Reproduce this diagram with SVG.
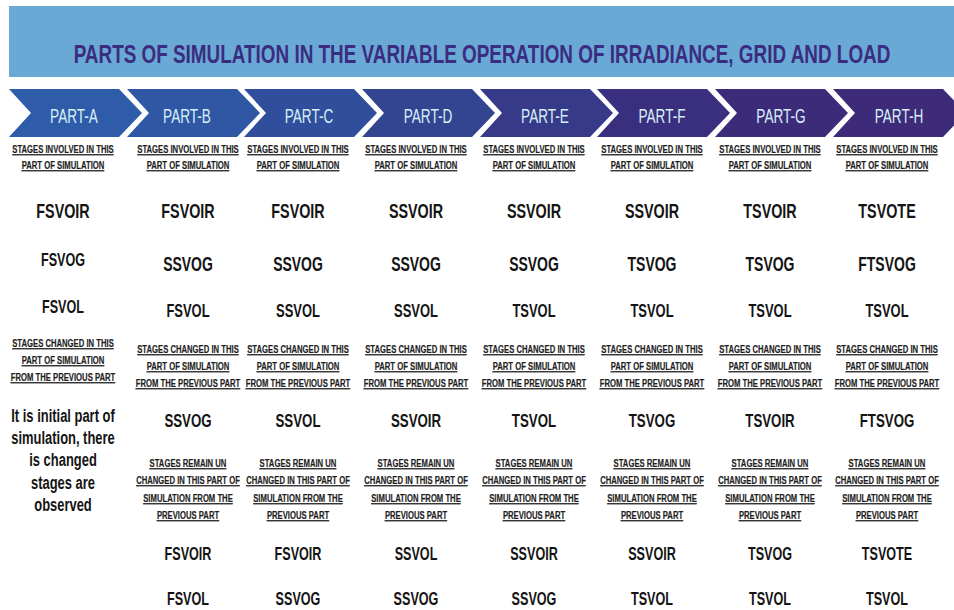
<svg xmlns="http://www.w3.org/2000/svg" width="954" height="610" viewBox="0 0 954 610">
<style>
text{font-family:"Liberation Sans",Arial,sans-serif;font-weight:bold;text-anchor:middle;fill:#141414}
.title{font-size:26px;fill:#3a2d80}
.pt{font-size:20px;font-weight:normal;fill:#d6eef8}
.hd{font-size:11px;fill:#1e1e1e;text-decoration:underline;stroke:#1e1e1e;stroke-width:0.2px}
.s1{font-size:20.5px}
.s2{font-size:20px}
.s3{font-size:18.5px}
.sa{font-size:18px}
.cv{font-size:19px}
.rv{font-size:18px}
.note{font-size:18.5px}
</style>
<rect id="banner" x="9" y="6" width="945" height="71" fill="#6aa9d6"/>
<text class="title" transform="translate(482,63) scale(0.75,1)" x="0" y="0" textLength="1089" lengthAdjust="spacingAndGlyphs">PARTS OF SIMULATION IN  THE VARIABLE OPERATION OF IRRADIANCE, GRID AND LOAD</text>
<g id="connectors"/>
<g id="part-a"><polygon points="9,89 119,89 142,113 119,137 9,137 31,113" fill="#2e5ca8"/><text class="pt" transform="translate(74,123) scale(0.68,1)">PART-A</text></g>
<g id="part-b"><polygon points="127,89 237,89 260,113 237,137 127,137 149,113" fill="#2f57a4"/><text class="pt" transform="translate(187,123) scale(0.68,1)">PART-B</text></g>
<g id="part-c"><polygon points="244,89 354,89 377,113 354,137 244,137 266,113" fill="#304e9b"/><text class="pt" transform="translate(309,123) scale(0.68,1)">PART-C</text></g>
<g id="part-d"><polygon points="362,89 472,89 495,113 472,137 362,137 384,113" fill="#334491"/><text class="pt" transform="translate(428,123) scale(0.68,1)">PART-D</text></g>
<g id="part-e"><polygon points="480,89 590,89 613,113 590,137 480,137 502,113" fill="#363a88"/><text class="pt" transform="translate(545,123) scale(0.68,1)">PART-E</text></g>
<g id="part-f"><polygon points="597,89 707,89 730,113 707,137 597,137 619,113" fill="#3a2f7e"/><text class="pt" transform="translate(662,123) scale(0.68,1)">PART-F</text></g>
<g id="part-g"><polygon points="715,89 825,89 848,113 825,137 715,137 737,113" fill="#3c2b79"/><text class="pt" transform="translate(781,123) scale(0.68,1)">PART-G</text></g>
<g id="part-h"><polygon points="833,89 943,89 966,113 943,137 833,137 855,113" fill="#3d2a78"/><text class="pt" transform="translate(899,123) scale(0.68,1)">PART-H</text></g>

<g id="col-a" transform="translate(63,0) scale(0.7,1)">
<text class="hd" x="0" y="153">STAGES INVOLVED IN THIS</text>
<text class="hd" x="0" y="169">PART OF SIMULATION</text>
<text class="s1" x="0" y="218">FSVOIR</text>
<text class="sa" x="0" y="266">FSVOG</text>
<text class="sa" x="0" y="313">FSVOL</text>
<text class="hd" x="0" y="347">STAGES CHANGED IN THIS</text>
<text class="hd" x="0" y="364">PART OF SIMULATION</text>
<text class="hd" x="0" y="381">FROM THE PREVIOUS PART</text>
<text class="note" x="0" y="422">It is initial part of</text>
<text class="note" x="0" y="444">simulation, there</text>
<text class="note" x="0" y="466">is changed</text>
<text class="note" x="0" y="489">stages are</text>
<text class="note" x="0" y="511">observed</text>
</g>

<g id="col-b" transform="translate(188,0) scale(0.7,1)">
<text class="hd" x="0" y="153">STAGES INVOLVED IN THIS</text>
<text class="hd" x="0" y="169">PART OF SIMULATION</text>
<text class="s1" x="0" y="218">FSVOIR</text>
<text class="s2" x="0" y="271">SSVOG</text>
<text class="s3" x="0" y="317">FSVOL</text>
<text class="hd" x="0" y="353">STAGES CHANGED IN THIS</text>
<text class="hd" x="0" y="370">PART OF SIMULATION</text>
<text class="hd" x="0" y="387">FROM THE PREVIOUS PART</text>
<text class="cv" x="0" y="427">SSVOG</text>
<text class="hd" x="0" y="467">STAGES  REMAIN UN</text>
<text class="hd" x="0" y="484">CHANGED IN THIS PART OF</text>
<text class="hd" x="0" y="502">SIMULATION FROM THE</text>
<text class="hd" x="0" y="519">PREVIOUS PART</text>
<text class="rv" x="0" y="560">FSVOIR</text>
<text class="rv" x="0" y="605">FSVOL</text>
</g>

<g id="col-c" transform="translate(298,0) scale(0.7,1)">
<text class="hd" x="0" y="153">STAGES INVOLVED IN THIS</text>
<text class="hd" x="0" y="169">PART OF SIMULATION</text>
<text class="s1" x="0" y="218">FSVOIR</text>
<text class="s2" x="0" y="271">SSVOG</text>
<text class="s3" x="0" y="317">SSVOL</text>
<text class="hd" x="0" y="353">STAGES CHANGED IN THIS</text>
<text class="hd" x="0" y="370">PART OF SIMULATION</text>
<text class="hd" x="0" y="387">FROM THE PREVIOUS PART</text>
<text class="cv" x="0" y="427">SSVOL</text>
<text class="hd" x="0" y="467">STAGES  REMAIN UN</text>
<text class="hd" x="0" y="484">CHANGED IN THIS PART OF</text>
<text class="hd" x="0" y="502">SIMULATION FROM THE</text>
<text class="hd" x="0" y="519">PREVIOUS PART</text>
<text class="rv" x="0" y="560">FSVOIR</text>
<text class="rv" x="0" y="605">SSVOG</text>
</g>

<g id="col-d" transform="translate(416,0) scale(0.7,1)">
<text class="hd" x="0" y="153">STAGES INVOLVED IN THIS</text>
<text class="hd" x="0" y="169">PART OF SIMULATION</text>
<text class="s1" x="0" y="218">SSVOIR</text>
<text class="s2" x="0" y="271">SSVOG</text>
<text class="s3" x="0" y="317">SSVOL</text>
<text class="hd" x="0" y="353">STAGES CHANGED IN THIS</text>
<text class="hd" x="0" y="370">PART OF SIMULATION</text>
<text class="hd" x="0" y="387">FROM THE PREVIOUS PART</text>
<text class="cv" x="0" y="427">SSVOIR</text>
<text class="hd" x="0" y="467">STAGES  REMAIN UN</text>
<text class="hd" x="0" y="484">CHANGED IN THIS PART OF</text>
<text class="hd" x="0" y="502">SIMULATION FROM THE</text>
<text class="hd" x="0" y="519">PREVIOUS PART</text>
<text class="rv" x="0" y="560">SSVOL</text>
<text class="rv" x="0" y="605">SSVOG</text>
</g>

<g id="col-e" transform="translate(534,0) scale(0.7,1)">
<text class="hd" x="0" y="153">STAGES INVOLVED IN THIS</text>
<text class="hd" x="0" y="169">PART OF SIMULATION</text>
<text class="s1" x="0" y="218">SSVOIR</text>
<text class="s2" x="0" y="271">SSVOG</text>
<text class="s3" x="0" y="317">TSVOL</text>
<text class="hd" x="0" y="353">STAGES CHANGED IN THIS</text>
<text class="hd" x="0" y="370">PART OF SIMULATION</text>
<text class="hd" x="0" y="387">FROM THE PREVIOUS PART</text>
<text class="cv" x="0" y="427">TSVOL</text>
<text class="hd" x="0" y="467">STAGES  REMAIN UN</text>
<text class="hd" x="0" y="484">CHANGED IN THIS PART OF</text>
<text class="hd" x="0" y="502">SIMULATION FROM THE</text>
<text class="hd" x="0" y="519">PREVIOUS PART</text>
<text class="rv" x="0" y="560">SSVOIR</text>
<text class="rv" x="0" y="605">SSVOG</text>
</g>

<g id="col-f" transform="translate(652,0) scale(0.7,1)">
<text class="hd" x="0" y="153">STAGES INVOLVED IN THIS</text>
<text class="hd" x="0" y="169">PART OF SIMULATION</text>
<text class="s1" x="0" y="218">SSVOIR</text>
<text class="s2" x="0" y="271">TSVOG</text>
<text class="s3" x="0" y="317">TSVOL</text>
<text class="hd" x="0" y="353">STAGES CHANGED IN THIS</text>
<text class="hd" x="0" y="370">PART OF SIMULATION</text>
<text class="hd" x="0" y="387">FROM THE PREVIOUS PART</text>
<text class="cv" x="0" y="427">TSVOG</text>
<text class="hd" x="0" y="467">STAGES  REMAIN UN</text>
<text class="hd" x="0" y="484">CHANGED IN THIS PART OF</text>
<text class="hd" x="0" y="502">SIMULATION FROM THE</text>
<text class="hd" x="0" y="519">PREVIOUS PART</text>
<text class="rv" x="0" y="560">SSVOIR</text>
<text class="rv" x="0" y="605">TSVOL</text>
</g>

<g id="col-g" transform="translate(770,0) scale(0.7,1)">
<text class="hd" x="0" y="153">STAGES INVOLVED IN THIS</text>
<text class="hd" x="0" y="169">PART OF SIMULATION</text>
<text class="s1" x="0" y="218">TSVOIR</text>
<text class="s2" x="0" y="271">TSVOG</text>
<text class="s3" x="0" y="317">TSVOL</text>
<text class="hd" x="0" y="353">STAGES CHANGED IN THIS</text>
<text class="hd" x="0" y="370">PART OF SIMULATION</text>
<text class="hd" x="0" y="387">FROM THE PREVIOUS PART</text>
<text class="cv" x="0" y="427">TSVOIR</text>
<text class="hd" x="0" y="467">STAGES  REMAIN UN</text>
<text class="hd" x="0" y="484">CHANGED IN THIS PART OF</text>
<text class="hd" x="0" y="502">SIMULATION FROM THE</text>
<text class="hd" x="0" y="519">PREVIOUS PART</text>
<text class="rv" x="0" y="560">TSVOG</text>
<text class="rv" x="0" y="605">TSVOL</text>
</g>

<g id="col-h" transform="translate(887,0) scale(0.7,1)">
<text class="hd" x="0" y="153">STAGES INVOLVED IN THIS</text>
<text class="hd" x="0" y="169">PART OF SIMULATION</text>
<text class="s1" x="0" y="218">TSVOTE</text>
<text class="s2" x="0" y="271">FTSVOG</text>
<text class="s3" x="0" y="317">TSVOL</text>
<text class="hd" x="0" y="353">STAGES CHANGED IN THIS</text>
<text class="hd" x="0" y="370">PART OF SIMULATION</text>
<text class="hd" x="0" y="387">FROM THE PREVIOUS PART</text>
<text class="cv" x="0" y="427">FTSVOG</text>
<text class="hd" x="0" y="467">STAGES  REMAIN UN</text>
<text class="hd" x="0" y="484">CHANGED IN THIS PART OF</text>
<text class="hd" x="0" y="502">SIMULATION FROM THE</text>
<text class="hd" x="0" y="519">PREVIOUS PART</text>
<text class="rv" x="0" y="560">TSVOTE</text>
<text class="rv" x="0" y="605">TSVOL</text>
</g>
</svg>
